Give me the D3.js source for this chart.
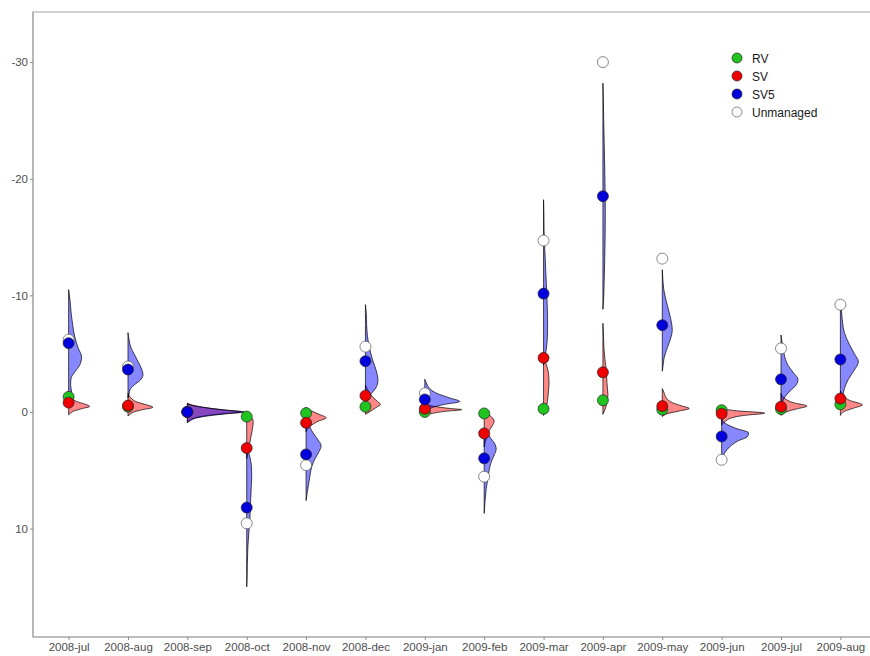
<!DOCTYPE html>
<html>
<head>
<meta charset="utf-8">
<script src="https://cdn.jsdelivr.net/npm/d3@7"></script>
<style>
  html, body { margin: 0; padding: 0; background: #fff; }
  svg { display: block; font-family: "Liberation Sans", Arial, Helvetica, sans-serif; }
</style>
</head>
<body>
<svg id="chart" width="870" height="656"></svg>
<script>
// Months on the x axis
const months = ["2008-jul","2008-aug","2008-sep","2008-oct","2008-nov","2008-dec",
                "2009-jan","2009-feb","2009-mar","2009-apr","2009-may","2009-jun",
                "2009-jul","2009-aug"];

// Point values per month for each management type
const rv        = [-1.3, -0.45, 0.0, 0.4, 0.1, -0.45, 0.0, 0.13, -0.27, -1.0, -0.2, -0.15, -0.25, -0.65];
const sv        = [-0.8, -0.55, 0.0, 3.1, 0.93, -1.4, -0.27, 1.84, -4.64, -3.4, -0.5, 0.15, -0.45, -1.15];
const sv5       = [-5.9, -3.64, 0.0, 8.2, 3.64, -4.35, -1.07, 3.98, -10.15, -18.5, -7.44, 2.1, -2.8, -4.5];
const unmanaged = [-6.2, -3.9, 0.0, 9.55, 4.56, -5.6, -1.6, 5.55, -14.7, -30.0, -13.15, 4.1, -5.45, -9.2];

const yTicks = [-30, -20, -10, 0, 10];

// Half-violin density profiles, [value, density] pairs per month
const svDensity = [
  [[-1.7,0],[-1.2,3],[-0.9,8],[-0.65,17],[-0.47,21],[-0.3,14],[-0.1,6],[0.1,2],[0.25,0]],
  [[-1.6,0],[-1.2,3],[-0.85,9],[-0.6,19],[-0.4,25],[-0.2,15],[0.0,6],[0.2,2],[0.35,0]],
  [[-0.75,0],[-0.55,7],[-0.35,20],[-0.17,36],[0.0,54],[0.15,36],[0.3,20],[0.5,8],[0.75,2],[0.9,0]],
  [[0.1,0],[0.4,4],[0.8,6.5],[1.3,6],[2.0,4.5],[2.7,3],[3.3,1.5],[3.8,0.5],[4.0,0]],
  [[-0.4,0],[-0.1,5],[0.2,13],[0.5,20],[0.8,12],[1.1,6],[1.4,2],[1.7,0]],
  [[-2.3,0],[-1.8,3],[-1.3,7],[-0.9,12],[-0.65,15],[-0.35,10],[0.0,4],[0.2,0]],
  [[-0.7,0],[-0.5,8],[-0.3,25],[-0.2,37],[-0.05,20],[0.15,6],[0.35,0]],
  [[-0.2,0],[0.1,3],[0.4,7],[0.8,10],[1.2,8],[1.6,5],[2.1,3],[2.6,1],[3.0,0]],
  [[-5.0,0],[-4.5,1],[-4.0,3],[-3.3,5],[-2.5,5.5],[-1.8,5],[-1.0,4],[-0.5,3],[0.0,1.5],[0.3,0]],
  [[-7.6,0],[-6.5,0.6],[-5.5,1],[-4.5,2],[-3.5,3.5],[-2.5,4],[-1.5,5],[-0.8,4],[-0.2,2],[0.2,0]],
  [[-2.0,0],[-1.6,2],[-1.2,4],[-0.8,10],[-0.5,20],[-0.3,27],[-0.1,18],[0.15,5],[0.4,0]],
  [[-0.3,0],[-0.1,15],[0.1,43],[0.3,22],[0.5,10],[0.8,4],[1.1,0]],
  [[-1.6,0],[-1.2,3],[-0.8,12],[-0.5,26],[-0.25,15],[0.0,5],[0.3,0]],
  [[-1.8,0],[-1.4,3],[-1.0,9],[-0.6,22],[-0.35,14],[-0.05,4],[0.3,0]]
];

const sv5Density = [
  [[-10.5,0],[-9.5,1.5],[-8.5,2.5],[-7.5,4],[-6.5,6],[-5.5,9.5],[-4.7,13],[-4.0,11],[-3.4,6],[-2.9,2.5],[-2.3,2],[-1.7,3],[-1.3,2],[-1.0,0]],
  [[-6.8,0],[-6.0,1.5],[-5.5,3],[-5.0,6],[-4.5,9],[-4.0,12],[-3.2,15],[-2.7,12],[-2.3,6],[-1.9,2],[-1.5,1],[-1.2,0]],
  [[-0.7,0],[-0.5,8],[-0.3,24],[-0.15,40],[0.0,57],[0.15,40],[0.3,24],[0.5,10],[0.8,2],[0.9,0]],
  [[3.0,0],[3.5,2],[4.5,4.5],[5.5,5],[6.5,4.5],[7.5,4],[8.5,3.5],[9.5,3],[10.5,2],[11.5,1.2],[13.0,0.6],[14.5,0.3],[15.0,0]],
  [[0.8,0],[1.2,3],[1.8,7],[2.4,12],[2.9,15],[3.4,13],[4.0,9],[4.6,6],[5.4,4],[6.2,2.5],[7.0,1],[7.6,0]],
  [[-9.2,0],[-8.5,0.8],[-7.5,1.2],[-6.5,2],[-5.5,4],[-4.5,7],[-3.5,11],[-2.7,12.5],[-2.0,10],[-1.5,5],[-1.0,1],[-0.8,0]],
  [[-2.8,0],[-2.4,2],[-2.0,5],[-1.6,12],[-1.2,25],[-0.9,35],[-0.65,20],[-0.4,8],[-0.1,3],[0.2,0]],
  [[1.4,0],[1.8,3],[2.3,7],[2.8,11],[3.2,12],[3.7,10],[4.3,7],[5.0,5],[5.8,3.5],[6.6,2],[7.5,1],[8.7,0]],
  [[-18.2,0],[-17.0,0.3],[-15.5,0.5],[-14.0,1.2],[-12.5,2],[-11.0,2.8],[-9.5,3.5],[-8.0,4],[-7.0,4],[-6.0,3.5],[-5.0,2],[-4.3,0.5],[-4.0,0]],
  [[-28.2,0],[-27.0,0.4],[-25.0,0.8],[-23.0,1.3],[-21.0,1.8],[-19.0,2.2],[-17.0,2.4],[-15.0,2.2],[-13.0,1.8],[-11.0,1.2],[-9.5,0.6],[-8.8,0]],
  [[-12.2,0],[-11.5,0.5],[-10.5,1.5],[-9.5,4],[-8.5,7],[-7.5,9.5],[-7.0,10],[-6.5,9],[-5.5,5],[-4.7,2],[-4.0,0.8],[-3.5,0]],
  [[0.6,0],[1.0,4],[1.4,14],[1.8,27],[2.1,26],[2.5,16],[3.0,8],[3.5,3],[4.0,0.5],[4.3,0]],
  [[-6.6,0],[-6.0,1],[-5.0,3],[-4.0,7],[-3.3,13],[-2.8,17],[-2.3,15],[-1.8,9],[-1.3,4],[-0.8,1],[-0.5,0]],
  [[-9.6,0],[-8.8,1],[-7.8,2],[-6.8,4],[-5.8,9],[-5.0,14],[-4.3,18],[-3.6,14],[-2.8,8],[-2.0,4],[-1.3,2],[-0.8,0]]
];

const legendLabels = ["RV", "SV", "SV5", "Unmanaged"];
const pointColors  = ["#1fc41f", "#ee0000", "#0000dd", "#ffffff"];

// Layout
const W = 870, H = 656;
const panel = { left: 33, top: 12, right: 876, bottom: 637 };

const svg = d3.select("#chart");

const x = d3.scalePoint()
  .domain(months)
  .range([panel.left, panel.right])
  .padding(0.6);

// Reversed value axis: negative values toward the top
const y = d3.scaleLinear()
  .domain([-34.3, 19.3])
  .range([panel.top, panel.bottom]);

// Density to half-violin width
const w = d3.scaleLinear().domain([0, 59.4]).range([0, x.step()]);

// Panel border (top and left edges visible)
svg.append("rect")
  .attr("x", panel.left).attr("y", panel.top)
  .attr("width", panel.right - panel.left)
  .attr("height", panel.bottom - panel.top)
  .attr("fill", "#fff")
  .attr("stroke", "#b3b3b3")
  .attr("stroke-width", 1.2);

// Axes
const yAxis = svg.append("g")
  .attr("transform", `translate(${panel.left},0)`)
  .call(d3.axisLeft(y).tickValues(yTicks).tickSize(3).tickPadding(2).tickFormat(d => String(d)));

const xAxis = svg.append("g")
  .attr("transform", `translate(0,${panel.bottom})`)
  .call(d3.axisBottom(x).tickSize(3).tickPadding(3));

[yAxis, xAxis].forEach(g => {
  g.select(".domain").attr("stroke", "#a6a6a6").attr("stroke-width", 1.2);
  g.selectAll(".tick line").attr("stroke", "#8c8c8c").attr("stroke-width", 1);
  g.selectAll(".tick text")
    .attr("fill", "#4d4d4d")
    .style("font-size", "11.5px")
    .style("font-family", "'Liberation Sans', Arial, sans-serif");
});
yAxis.select(".domain").attr("d", `M0,${panel.top}V${panel.bottom}`);
xAxis.select(".domain").attr("d", `M${panel.left},0H${panel.right}`);

// Half violins drawn to the right of each month
const violinArea = cx => d3.area()
  .y(d => y(d[0]))
  .x0(cx)
  .x1(d => cx + w(d[1]))
  .curve(d3.curveMonotoneY);

const violins = svg.append("g");
months.forEach((m, i) => {
  const cx = x(m);
  violins.append("path")
    .attr("d", violinArea(cx)(svDensity[i]))
    .attr("fill", "#ff0000").attr("fill-opacity", 0.47)
    .attr("stroke", "#000").attr("stroke-width", 0.7);
  violins.append("path")
    .attr("d", violinArea(cx)(sv5Density[i]))
    .attr("fill", "#0000ff").attr("fill-opacity", 0.47)
    .attr("stroke", "#000").attr("stroke-width", 0.7);
});

// Points: Unmanaged first, then RV, SV, SV5 on top
const series = [
  { values: unmanaged, color: pointColors[3], stroke: "#555" },
  { values: rv,        color: pointColors[0], stroke: "#222" },
  { values: sv,        color: pointColors[1], stroke: "#222" },
  { values: sv5,       color: pointColors[2], stroke: "#222" }
];
const points = svg.append("g");
series.forEach(s => {
  points.selectAll(null)
    .data(months.map((m, i) => ({ m, v: s.values[i] })))
    .enter().append("circle")
    .attr("cx", d => x(d.m))
    .attr("cy", d => y(d.v))
    .attr("r", 5.5)
    .attr("fill", s.color)
    .attr("stroke", s.stroke)
    .attr("stroke-width", 0.7);
});

// Legend
const legend = svg.append("g").attr("transform", "translate(737,58)");
legendLabels.forEach((lab, i) => {
  const row = legend.append("g").attr("transform", `translate(0,${i * 18})`);
  row.append("circle")
    .attr("r", 5)
    .attr("fill", pointColors[i])
    .attr("stroke", i === 3 ? "#555" : "#222")
    .attr("stroke-width", 0.7);
  row.append("text")
    .attr("x", 15).attr("y", 4.5)
    .attr("fill", "#1a1a1a")
    .style("font-size", "12px")
    .text(lab);
});
</script>
</body>
</html>
